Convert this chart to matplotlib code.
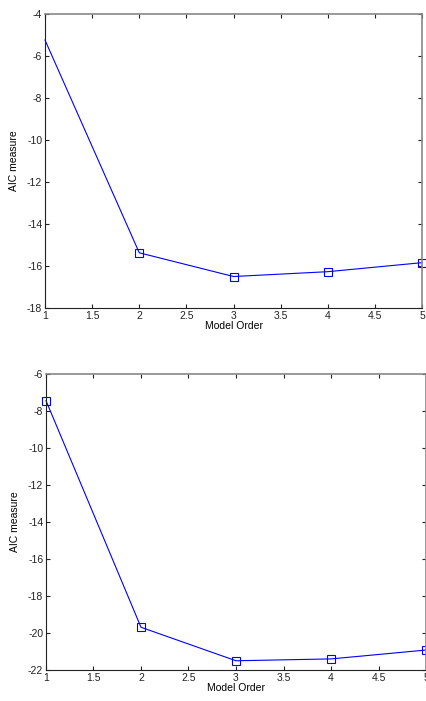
import matplotlib
matplotlib.use("Agg")
import matplotlib.pyplot as plt

plt.rcParams['font.family'] = ['Liberation Sans', 'DejaVu Sans']

# Model orders and AIC values
orders = [1, 2, 3, 4, 5]
aic_top = [-5.24, -15.37, -16.5, -16.27, -15.84]
aic_bottom = [-7.44, -19.69, -21.5, -21.4, -20.92]

x_ticks = [1, 1.5, 2, 2.5, 3, 3.5, 4, 4.5, 5]
x_ticklabels = ['1', '1.5', '2', '2.5', '3', '3.5', '4', '4.5', '5']
y_ticks_top = [-18, -16, -14, -12, -10, -8, -6, -4]
y_ticks_bottom = [-22, -20, -18, -16, -14, -12, -10, -8, -6]

fig = plt.figure(figsize=(4.27, 7.01), dpi=100)

def style_axes(ax, yticks, ylim):
    ax.set_xlim(1, 5)
    ax.set_ylim(*ylim)
    ax.set_xticks(x_ticks)
    ax.set_xticklabels(x_ticklabels)
    ax.set_yticks(yticks)
    ax.set_yticklabels([str(v) for v in yticks])
    ax.tick_params(direction='in', length=3, width=0.8, labelsize=7.5,
                   top=True, right=True, pad=2, colors='#222222')
    for side in ['left', 'bottom']:
        ax.spines[side].set_color('#222222')
        ax.spines[side].set_linewidth(0.8)
    for side in ['top', 'right']:
        ax.spines[side].set_color('#888888')
        ax.spines[side].set_linewidth(1.2)
    ax.set_xlabel('Model Order', fontsize=7.5, labelpad=0)
    ax.set_ylabel('AIC measure', fontsize=7.5, labelpad=6)

ax1 = fig.add_axes([0.1054, 0.5606, 0.883, 0.4194])
ax1.plot(orders, aic_top, color='#0000ff', lw=0.8, marker='s', ms=5.5,
         mfc='none', mec='#0000ff', mew=0.8, markevery=[1, 2, 3, 4],
         clip_on=False)
style_axes(ax1, y_ticks_top, (-18, -4))

ax2 = fig.add_axes([0.1077, 0.0442, 0.890, 0.4223])
ax2.plot(orders, aic_bottom, color='#0000ff', lw=0.8, marker='s', ms=5.5,
         mfc='none', mec='#0000ff', mew=0.8, clip_on=False)
style_axes(ax2, y_ticks_bottom, (-22, -6))

fig.savefig('out.png', dpi=100)
